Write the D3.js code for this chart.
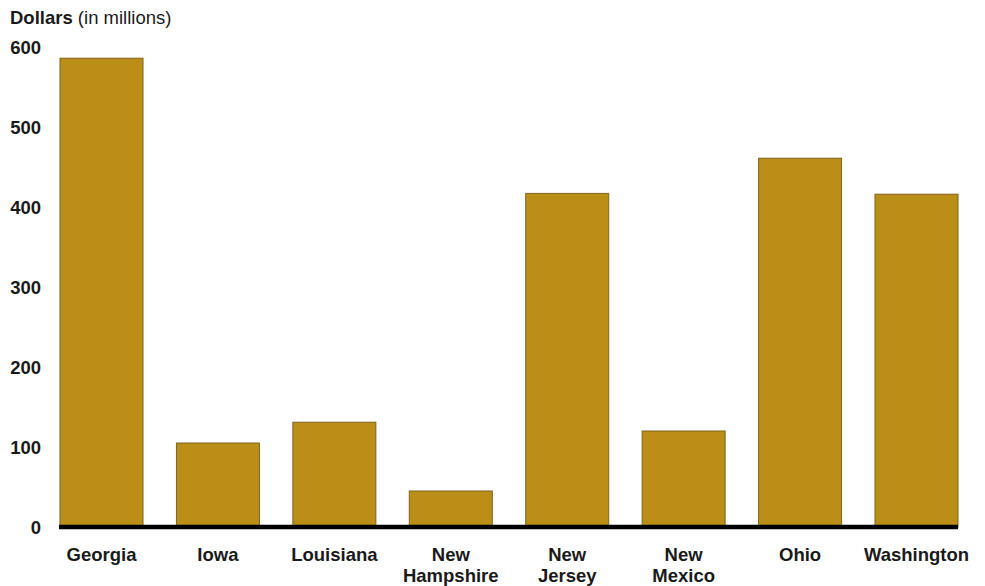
<!DOCTYPE html>
<html><head><meta charset="utf-8">
<script src="https://cdn.jsdelivr.net/npm/d3@7/dist/d3.min.js"></script>
<style>body{margin:0;background:#fff;}svg{display:block;font-family:"Liberation Sans",Arial,sans-serif;}</style>
</head><body>
<svg id="chart" width="985" height="586"></svg>
<script>
const categories = ["Georgia", "Iowa", "Louisiana", "New\nHampshire", "New\nJersey", "New\nMexico", "Ohio", "Washington"];
const values = [586, 105, 131, 45, 417, 120, 461, 416];
const yTicks = [0, 100, 200, 300, 400, 500, 600];

const svg = d3.select("#chart");
const x = d3.scaleBand().domain(categories).range([60, 958]).paddingInner(0.287).paddingOuter(0);
const y = d3.scaleLinear().domain([0, 600]).range([527, 47]);

svg.append("text").attr("x", 10).attr("y", 24).attr("fill", "#1a1a1a").attr("font-size", 18.5)
  .call(t => { t.append("tspan").attr("font-weight", "bold").text("Dollars");
               t.append("tspan").text(" (in millions)"); });

const yAxis = svg.append("g").attr("transform", "translate(41,0)")
  .call(d3.axisLeft(y).tickValues(yTicks).tickSize(0).tickPadding(0));
yAxis.select(".domain").remove();
yAxis.selectAll("text").attr("font-size", 18.5).attr("font-weight", "bold").attr("fill", "#1a1a1a")
  .attr("font-family", "Liberation Sans, Arial, sans-serif").attr("dy", "0.36em");

svg.append("g").selectAll("rect").data(values).join("rect")
  .attr("x", (d, i) => x(categories[i]))
  .attr("width", x.bandwidth())
  .attr("y", d => y(d))
  .attr("height", d => y(0) - y(d))
  .attr("fill", "#BA8E17").attr("stroke", "#7d6420").attr("stroke-width", 1);

svg.append("line").attr("x1", 59).attr("x2", 958).attr("y1", y(0)).attr("y2", y(0))
  .attr("stroke", "#000").attr("stroke-width", 4.5);

const xAxis = svg.append("g").attr("transform", `translate(0,${y(0)})`)
  .call(d3.axisBottom(x).tickSize(0).tickFormat(""));
xAxis.select(".domain").remove();
xAxis.selectAll(".tick").each(function(d) {
  const t = d3.select(this).append("text").attr("text-anchor", "middle").attr("font-size", 18.5)
    .attr("font-weight", "bold").attr("fill", "#1a1a1a").attr("font-family", "Liberation Sans, Arial, sans-serif");
  d.split("\n").forEach((line, k) => t.append("tspan").attr("x", 0).attr("y", 34 + k * 21).text(line));
});
</script>
</body></html>
